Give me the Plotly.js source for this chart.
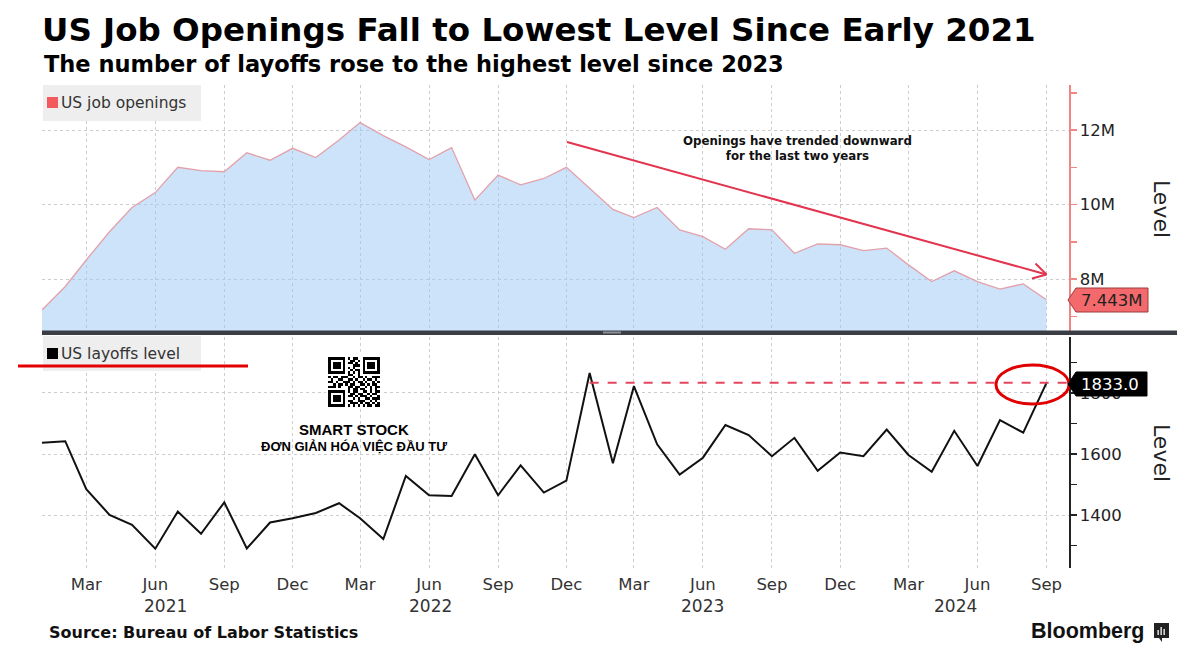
<!DOCTYPE html>
<html>
<head>
<meta charset="utf-8">
<script src="https://cdn.plot.ly/plotly-3.0.1.min.js"></script>
<style>html,body{margin:0;padding:0;background:#fff;}#chart{width:1200px;height:655px;}</style>
</head>
<body>
<div id="chart"></div>
<script>
// ---- Data ----
const months = [
  "2021-01-01","2021-02-01","2021-03-01","2021-04-01","2021-05-01","2021-06-01","2021-07-01","2021-08-01","2021-09-01","2021-10-01","2021-11-01","2021-12-01",
  "2022-01-01","2022-02-01","2022-03-01","2022-04-01","2022-05-01","2022-06-01","2022-07-01","2022-08-01","2022-09-01","2022-10-01","2022-11-01","2022-12-01",
  "2023-01-01","2023-02-01","2023-03-01","2023-04-01","2023-05-01","2023-06-01","2023-07-01","2023-08-01","2023-09-01","2023-10-01","2023-11-01","2023-12-01",
  "2024-01-01","2024-02-01","2024-03-01","2024-04-01","2024-05-01","2024-06-01","2024-07-01","2024-08-01","2024-09-01"
];
// US job openings, millions
const jobOpenings = [
  7.17, 7.80, 8.51, 9.27, 9.92, 10.32, 11.00, 10.91, 10.88, 11.39, 11.19, 11.51,
  11.26, 11.73, 12.20, 11.85, 11.55, 11.21, 11.53, 10.12, 10.79, 10.53, 10.70, 11.00,
  10.44, 9.87, 9.65, 9.92, 9.32, 9.14, 8.80, 9.35, 9.32, 8.69, 8.94, 8.92,
  8.76, 8.83, 8.38, 7.93, 8.22, 7.93, 7.73, 7.87, 7.443
];
// US layoffs level, thousands
const layoffs = [
  1637, 1642, 1485, 1401, 1368, 1290, 1412, 1339, 1442, 1291, 1376, 1390,
  1407, 1439, 1390, 1322, 1528, 1465, 1463, 1599, 1465, 1563, 1474, 1513,
  1865, 1570, 1822, 1632, 1533, 1588, 1695, 1662, 1593, 1653, 1545, 1605,
  1593, 1680, 1597, 1542, 1676, 1561, 1711, 1670, 1833
];
const openingsTicks = [8, 10, 12];
const openingsMinor = [7, 9, 11, 13];
const layoffTicks = [1400, 1600, 1800];
const layoffMinor = [1300, 1500, 1700, 1900];
const yearLabels = ["2021", "2022", "2023", "2024"];
const yearLabelPos = ["2021-06-15", "2022-06-03", "2023-06-01", "2024-05-03"];

// ---- Geometry helpers (pixel -> paper) ----
const L = 42, R = 1069, T = 85, B = 568;
const px = x => (x - L) / (R - L);
const py = y => (B - y) / (B - T);

const FONT = "DejaVu Sans, Verdana, sans-serif";
const BOLD = "DejaVu Sans, Verdana, sans-serif";
const gridC = "#cdcdcd";

const lastO = jobOpenings[jobOpenings.length - 1];
const lastL = layoffs[layoffs.length - 1];
const peakIdx = layoffs.indexOf(Math.max.apply(null, layoffs));

const traces = [
  {
    x: months, y: jobOpenings, xaxis: "x2", yaxis: "y2", type: "scatter", mode: "lines",
    line: { color: "#e3a1aa", width: 1.3 }, fill: "tozeroy", fillcolor: "rgba(153,199,245,0.5)",
    hoverinfo: "skip", showlegend: false
  },
  {
    x: months, y: layoffs, xaxis: "x", yaxis: "y", type: "scatter", mode: "lines",
    line: { color: "#111", width: 2 }, hoverinfo: "skip", showlegend: false
  }
];

// QR-like decoration
const qrRows = [
  "111111101011001111111",
  "100000100110101000001",
  "101110101101001011101",
  "101110100011101011101",
  "101110101010001011101",
  "100000100101101000001",
  "111111101010101111111",
  "000000001100100000000",
  "101101110010110100111",
  "010011001101001011010",
  "110100111010110100101",
  "001011010110011010110",
  "111010001101100101011",
  "000000001011011001010",
  "111111101011001101011",
  "100000100110110010110",
  "101110101101011101001",
  "101110100010100110111",
  "101110101100111001010",
  "100000100111010110101",
  "111111101010101011011"
];
let qrSvg = "<svg xmlns='http://www.w3.org/2000/svg' viewBox='-1 -1 23 23' shape-rendering='crispEdges'><rect x='-1' y='-1' width='23' height='23' fill='white'/>";
qrRows.forEach((row, r) => { for (let c = 0; c < row.length; c++) if (row[c] === "1") qrSvg += "<rect x='" + c + "' y='" + r + "' width='1' height='1' fill='black'/>"; });
qrSvg += "</svg>";
const qrUri = "data:image/svg+xml;charset=utf-8," + encodeURIComponent(qrSvg);

function poly(pts) {
  return "M" + pts.map(p => px(p[0]).toFixed(5) + "," + py(p[1]).toFixed(5)).join(" L") + " Z";
}
function seg(x0, y0, x1, y1, color, width, dash) {
  return { type: "line", xref: "paper", yref: "paper", x0: px(x0), y0: py(y0), x1: px(x1), y1: py(y1),
    line: { color: color, width: width, dash: dash || "solid" }, layer: "above" };
}
function box(x0, y0, x1, y1, color) {
  return { type: "rect", xref: "paper", yref: "paper", x0: px(x0), x1: px(x1), y0: py(y1), y1: py(y0),
    fillcolor: color, line: { width: 0 }, layer: "above" };
}

const arrowC = "#e3344f";
const shapes = [
  // separator bar
  box(42, 330.5, 1177, 335, "#3a3e44"),
  box(603, 331.5, 621, 333.5, "#8c9096"),
  // legend boxes and colour squares
  box(43, 85, 201, 121, "#eeeeee"),
  box(47, 97, 58, 108, "#f25a5e"),
  box(43, 336, 201, 371, "#eeeeee"),
  box(47, 348, 58, 359, "#000"),
  // dashed line at latest layoffs level
  { type: "line", xref: "x", yref: "y", x0: months[peakIdx], x1: "2024-10-01", y0: lastL, y1: lastL,
    line: { color: "#e4455e", width: 2, dash: "dash" }, layer: "above" },
  // red ellipse
  { type: "circle", xref: "paper", yref: "paper", x0: px(996), x1: px(1069), y0: py(404), y1: py(365),
    line: { color: "#e00000", width: 3 }, layer: "above" },
  // red underline
  seg(18, 366, 248, 366, "#e30000", 3),
  // trend arrow
  seg(567, 142, 1046.5, 274.5, arrowC, 2),
  seg(1046.5, 274.5, 1032, 278.5, arrowC, 2),
  seg(1046.5, 274.5, 1035.5, 263.5, arrowC, 2),
  // value tags
  { type: "path", xref: "paper", yref: "paper", path: poly([[1068, 300], [1076, 288], [1148, 288], [1148, 312], [1076, 312]]),
    fillcolor: "#f46a6c", line: { color: "#9c3a3a", width: 1 }, layer: "above" },
  { type: "path", xref: "paper", yref: "paper", path: poly([[1068, 384], [1076, 372], [1147, 372], [1147, 396], [1076, 396]]),
    fillcolor: "#000", line: { color: "#000", width: 1 }, layer: "above" },
  // Bloomberg icon
  box(1154, 623, 1169, 638, "#222"),
  { type: "path", xref: "paper", yref: "paper", path: poly([[1159, 638], [1162, 642], [1162, 638]]),
    fillcolor: "#222", line: { width: 0 }, layer: "above" },
  box(1157.5, 630, 1158.8, 635, "#fff"),
  box(1160.5, 627, 1161.8, 635, "#fff"),
  box(1163.5, 629, 1164.8, 635, "#fff")
];

function ann(o) { return Object.assign({ showarrow: false, xref: "paper", yref: "paper" }, o); }

const annotations = [
  ann({ x: px(42), y: py(64), xanchor: "left", yanchor: "middle",
    text: "<b>The number of layoffs rose to the highest level since 2023</b>",
    font: { family: BOLD, size: 22.5, color: "#000" } }),
  // legend texts
  ann({ x: px(59), y: py(103), xanchor: "left", yanchor: "middle",
    text: "US job openings", font: { family: FONT, size: 15.5, color: "#333" } }),
  ann({ x: px(59), y: py(354), xanchor: "left", yanchor: "middle",
    text: "US layoffs level", font: { family: FONT, size: 15.5, color: "#333" } }),
  // arrow text
  ann({ x: px(797), y: py(148), xanchor: "center", yanchor: "middle", align: "center",
    text: "<b>Openings have trended downward<br>for the last two years</b>",
    font: { family: BOLD, size: 11.8, color: "#111" } }),
  // tag texts
  ann({ x: px(1111), y: py(300), xanchor: "center", yanchor: "middle",
    text: lastO.toFixed(3) + "M", font: { family: FONT, size: 16.5, color: "#222" } }),
  ann({ x: px(1110), y: py(384), xanchor: "center", yanchor: "middle",
    text: lastL.toFixed(1), font: { family: FONT, size: 16.5, color: "#fff" } }),
  // Level titles
  ann({ x: px(1162), y: py(209), xanchor: "center", yanchor: "middle", textangle: 90,
    text: "Level", font: { family: FONT, size: 22, color: "#222" } }),
  ann({ x: px(1162), y: py(453), xanchor: "center", yanchor: "middle", textangle: 90,
    text: "Level", font: { family: FONT, size: 22, color: "#222" } }),
  // watermark text
  ann({ x: px(354), y: py(429), xanchor: "center", yanchor: "middle",
    text: "<b>SMART STOCK</b>", font: { family: "Liberation Sans, Arial, sans-serif", size: 15, color: "#000" } }),
  ann({ x: px(354), y: py(447), xanchor: "center", yanchor: "middle",
    text: "<b>ĐƠN GIẢN HÓA VIỆC ĐẦU TƯ</b>", font: { family: "Liberation Sans, Arial, sans-serif", size: 13, color: "#000" } }),
  // footer
  ann({ x: px(47), y: py(632), xanchor: "left", yanchor: "middle",
    text: "<b>Source: Bureau of Labor Statistics</b>", font: { family: BOLD, size: 16, color: "#111" } }),
  ann({ x: px(1146), y: py(631), xanchor: "right", yanchor: "middle",
    text: "<b>Bloomberg</b>", font: { family: "Liberation Sans, Arial, sans-serif", size: 21.5, color: "#111" } })
];
yearLabels.forEach((t, i) => annotations.push({
  showarrow: false, xref: "x", yref: "paper", x: yearLabelPos[i], y: py(606), xanchor: "center", yanchor: "middle",
  text: t, font: { family: FONT, size: 17, color: "#333" }
}));

const xCommon = {
  type: "date", range: ["2021-01-01", "2024-10-01"], tickmode: "linear", tick0: "2021-03-01", dtick: "M3",
  tickformat: "%b", showgrid: true, gridcolor: gridC, griddash: "dot", gridwidth: 1,
  showline: false, zeroline: false, ticks: "", fixedrange: true
};

const layout = {
  width: 1200, height: 655,
  margin: { l: L, r: 1200 - R, t: T, b: 655 - B, pad: 0 },
  paper_bgcolor: "#fff", plot_bgcolor: "#fff",
  showlegend: false,
  title: {
    text: "<b>US Job Openings Fall to Lowest Level Since Early 2021</b>",
    x: 42 / 1200, xanchor: "left", xref: "container",
    y: 1 - 30 / 655, yanchor: "middle", yref: "container",
    font: { family: BOLD, size: 32.5, color: "#000" }
  },
  xaxis: Object.assign({}, xCommon, {
    domain: [0, 1], anchor: "y",
    tickfont: { family: FONT, size: 16.5, color: "#333" }, ticklabelstandoff: 4
  }),
  xaxis2: Object.assign({}, xCommon, { domain: [0, 1], anchor: "y2", showticklabels: false }),
  yaxis: {
    domain: [0, py(337)], anchor: "x", side: "right", range: [1227, 1983],
    tickmode: "array", tickvals: layoffTicks, ticktext: layoffTicks.map(String),
    showline: true, linecolor: "#222", linewidth: 1.5, ticks: "outside", ticklen: 6, tickcolor: "#222", tickwidth: 1.5,
    minor: { tickmode: "array", tickvals: layoffMinor, ticks: "outside", ticklen: 6, tickcolor: "#222", tickwidth: 1.5, showgrid: false },
    showgrid: true, gridcolor: gridC, griddash: "dot", zeroline: false,
    tickfont: { family: FONT, size: 16.5, color: "#222" }, fixedrange: true
  },
  yaxis2: {
    domain: [py(331.3), 1], anchor: "x2", side: "right", range: [6.596, 13.21],
    tickmode: "array", tickvals: openingsTicks, ticktext: openingsTicks.map(v => v + "M"),
    showline: true, linecolor: "#f08585", linewidth: 1.5, ticks: "outside", ticklen: 6, tickcolor: "#f08585", tickwidth: 1.5,
    minor: { tickmode: "array", tickvals: openingsMinor, ticks: "outside", ticklen: 6, tickcolor: "#f08585", tickwidth: 1.5, showgrid: false },
    showgrid: true, gridcolor: gridC, griddash: "dot", zeroline: false,
    tickfont: { family: FONT, size: 16.5, color: "#222" }, fixedrange: true
  },
  shapes: shapes,
  annotations: annotations,
  images: [{
    source: qrUri, xref: "paper", yref: "paper", x: px(326), y: py(355),
    sizex: 56 / (R - L), sizey: 54 / (B - T), xanchor: "left", yanchor: "top", sizing: "stretch", layer: "above"
  }]
};

Plotly.newPlot("chart", traces, layout, { displayModeBar: false, staticPlot: true });
</script>
</body>
</html>
